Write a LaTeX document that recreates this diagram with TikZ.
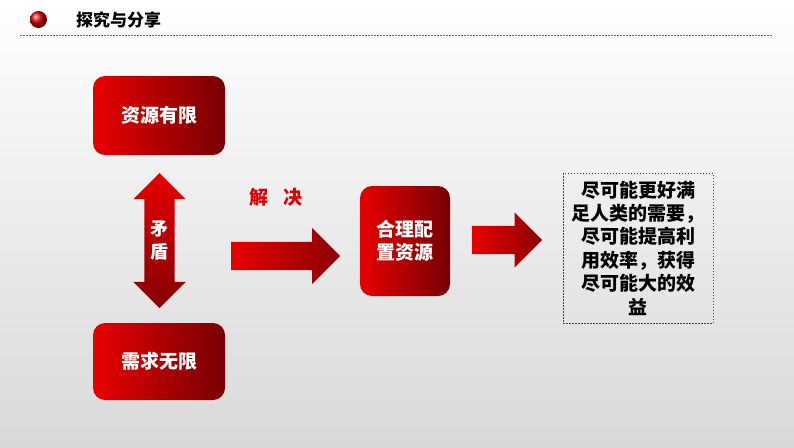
\documentclass[tikz,border=0pt]{standalone}
\usepackage{fontspec}
\usepackage{xcolor}
\newfontfamily\cjk{Noto Sans CJK SC}
\usetikzlibrary{shapes.arrows}
\definecolor{boxl}{RGB}{232,0,0}
\definecolor{boxr}{RGB}{118,0,4}
\definecolor{solvered}{RGB}{220,0,0}

\begin{document}
\begin{tikzpicture}[x=1pt, y=-1pt,
    redbox/.style={rectangle, rounded corners=12pt, left color=boxl, right color=boxr, text=white, inner sep=0pt, align=center, font=\cjk\bfseries\fontsize{19}{23}\selectfont},
    blockarrow/.style={single arrow, single arrow head extend=14pt, inner xsep=0pt, inner ysep=14pt, anchor=tail, left color=boxl, right color=boxr!85!red},
    resultbox/.style={rectangle, draw=red!90!black, line width=0.7pt, dash pattern=on 1.5pt off 1.5pt, minimum width=150pt, minimum height=150pt, align=center, font=\cjk\bfseries\fontsize{19}{23.4}\selectfont}
]
    % Background
    \shade[top color=white, bottom color=black!15] (0,0) rectangle (794,447);
    \useasboundingbox (0,0) rectangle (794,447);

    % Header
    \shade[ball color=red!85!black] (38.5,19.5) circle (8.5pt);
    \node[anchor=west, inner sep=0pt, font=\cjk\bfseries\fontsize{17}{17}\selectfont] (title) at (76,20) {探究与分享};
    \draw[black!60, line width=0.6pt, dash pattern=on 2pt off 1pt] (20,35) -- (773,35);

    % Resources and needs
    \node[redbox, minimum width=132pt, minimum height=79pt] (limited) at (159,115.5) {资源有限};
    \node[redbox, minimum width=132pt, minimum height=77pt] (unlimited) at (159,361.5) {需求无限};

    % Conflict
    \node[double arrow, shape border rotate=90, double arrow head extend=11pt, inner xsep=15pt, inner ysep=15pt, minimum height=135pt, top color=boxl, bottom color=boxr!90!red] (conflict) at (159.5,240.5) {};
    \node[text=white, align=center, inner sep=0pt, font=\cjk\bfseries\fontsize{18}{23}\selectfont] (conflictlabel) at (conflict) {矛\\盾};

    % Solve
    \node[text=solvered, inner sep=0pt, font=\cjk\bfseries\fontsize{19}{19}\selectfont] (solve) at (276,197) {解\hspace{0.8em}决};
    \node[blockarrow, minimum height=109pt] (arrowone) at (231,256) {};

    % Allocation
    \node[redbox, minimum width=90pt, minimum height=110pt] (allocate) at (405,241) {合理配\\置资源};
    \node[blockarrow, single arrow head extend=13.5pt, minimum height=70pt] (arrowtwo) at (472,240) {};

    % Result
    \node[resultbox] (result) at (638,248) {尽可能更好满\\足人类的需要，\\尽可能提高利\\用效率，获得\\尽可能大的效\\益};
\end{tikzpicture}
\end{document}
